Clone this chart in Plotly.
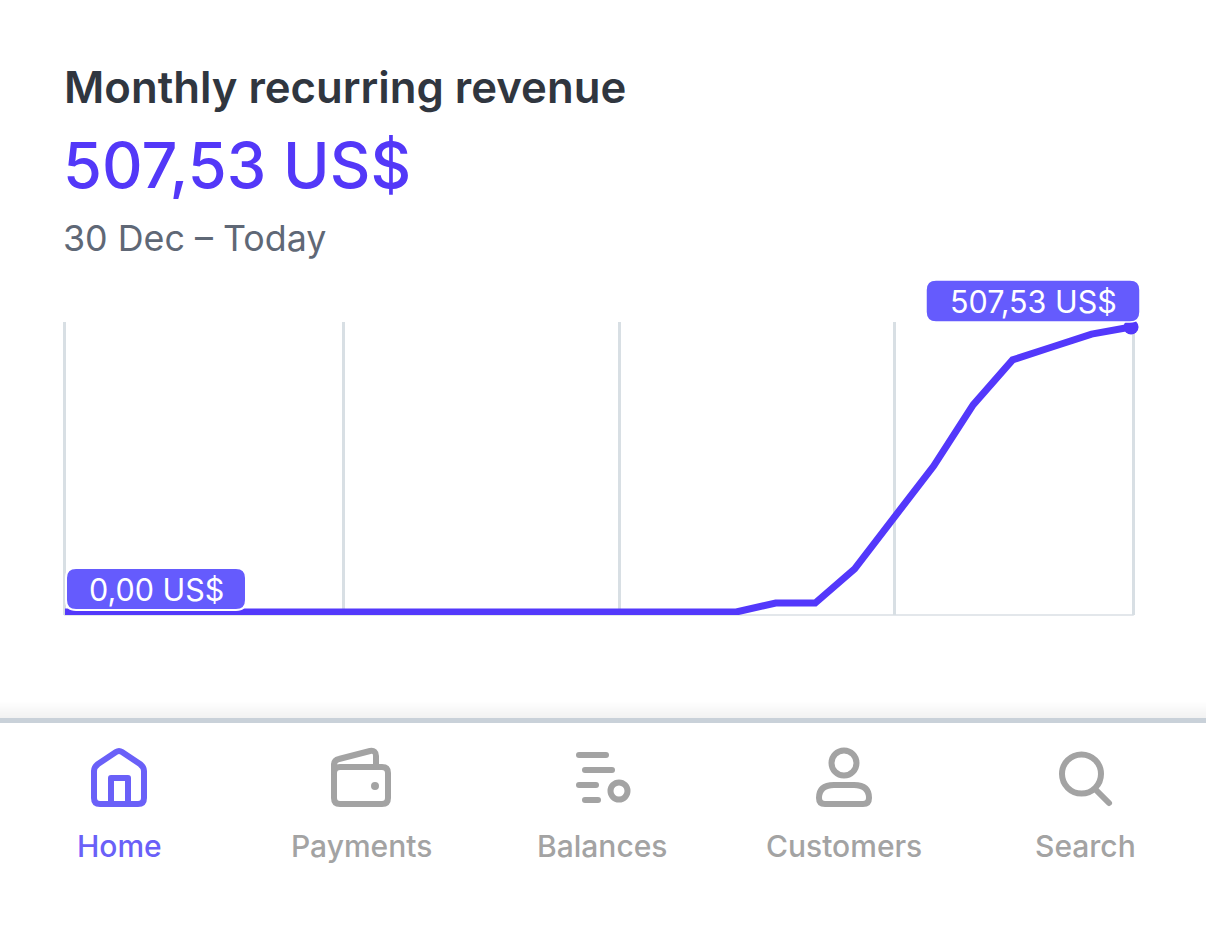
import plotly.graph_objects as go

# data, one point per day starting 30 Dec

days = list(range(28))
revenue = [0, 0, 0, 0, 0, 0, 0, 0, 0, 0, 0, 0, 0, 0, 0, 0, 0, 0,
           16, 16, 77, 169, 260, 369, 449, 472, 495, 507.53]
grid_days = [0, 7.06, 14.05, 21, 27.05]
tabs = ["Home", "Payments", "Balances", "Customers", "Search"]
tab_centers = [119, 361, 602, 844, 1085]

title = "Monthly recurring revenue"
total = "507,53 US$"
period = "30 Dec – Today"

PURPLE = "#5338fb"
LABEL = "#655bfd"
TAB_ON = "#6a60f8"
TAB_OFF = "#a3a3a3"
FONT = "Inter"


def money(v):
    return f"{v:.2f} US$".replace(".", ",")


def rounded_box(x0, y0, x1, y1, r):
    return (f"M {x0+r} {y0} L {x1-r} {y0} Q {x1} {y0} {x1} {y0+r} L {x1} {y1-r} "
            f"Q {x1} {y1} {x1-r} {y1} L {x0+r} {y1} Q {x0} {y1} {x0} {y1-r} "
            f"L {x0} {y0+r} Q {x0} {y0} {x0+r} {y0} Z")


fig = go.Figure()

# the line itself
fig.add_trace(go.Scatter(x=days, y=revenue, mode="lines",
                         line=dict(color=PURPLE, width=7),
                         cliponaxis=False, hoverinfo="skip", showlegend=False))
fig.add_trace(go.Scatter(x=days[-1:], y=revenue[-1:], mode="markers",
                         marker=dict(color=PURPLE, size=15),
                         cliponaxis=False, hoverinfo="skip", showlegend=False))

shapes = []


def page_shape(**kw):
    shapes.append(dict(xref="x2", yref="y2", **kw))


def icon(path, color=TAB_OFF, width=6, fill=None):
    page_shape(type="path", path=path, line=dict(color=color, width=width),
               fillcolor=fill if fill else "rgba(0,0,0,0)")


def ring(cx, cy, r, color=TAB_OFF, width=6, fill=None):
    page_shape(type="circle", x0=cx-r, x1=cx+r, y0=cy-r, y1=cy+r,
               line=dict(color=color, width=width),
               fillcolor=fill if fill else "rgba(0,0,0,0)")


# value labels on the chart
page_shape(type="path", path=rounded_box(926, 280, 1140, 322, 10),
           fillcolor=LABEL, line=dict(color="white", width=1.5))
page_shape(type="path", path=rounded_box(66, 568, 246, 610, 10),
           fillcolor=LABEL, line=dict(color="white", width=2))

# fade above the tab bar
for i in range(18):
    g = 255 - int(i * 14 / 18)
    page_shape(type="rect", x0=0, x1=1206, y0=700+i, y1=701+i,
               fillcolor=f"rgb({g},{g},{g})", line=dict(width=0))
page_shape(type="rect", x0=0, x1=1206, y0=718, y1=723,
           fillcolor="#c9d1d9", line=dict(width=0))

# home
icon("M 94 798 L 94 771 Q 94 767 98 764 L 116 752 Q 119 750 122 752 L 140 764 "
     "Q 144 767 144 771 L 144 798 Q 144 804 138 804 L 100 804 Q 94 804 94 798 Z", TAB_ON)
icon("M 111 804 L 111 778 L 128 778 L 128 804", TAB_ON)

# payments
icon(rounded_box(334, 767, 388, 804, 6))
icon("M 334 772 L 334 765 Q 334 760 339 759 L 370 751 Q 376 750 376 756 L 376 767")
ring(375, 786, 2.5, fill=TAB_OFF, width=3)

# balances
icon("M 579 755 L 606 755")
icon("M 585 770 L 612 770")
icon("M 579 785 L 596 785")
icon("M 585 800 L 598 800")
ring(619, 791, 8.5)

# customers
ring(844, 763, 12.5)
icon("M 819 798 Q 819 785 834 785 L 854 785 Q 869 785 869 798 "
     "Q 869 804 863 804 L 825 804 Q 819 804 819 798 Z")

# search
ring(1081.5, 774, 19.5)
icon("M 1096 790 L 1109 803")

annotations = []


def label(text, x, y, size, color, weight=400, anchor="left"):
    annotations.append(dict(text=text, x=x, y=y, xref="x2", yref="y2",
                            xanchor=anchor, yanchor="middle", showarrow=False,
                            font=dict(family=FONT, size=size, color=color, weight=weight)))


label(title, 62, 87, 43.7, "#30363f", 600)
label(total, 61, 165, 63, "#5338f8", 500)
label(period, 61, 238, 35.8, "#5f6876")
label(money(revenue[-1]), 1033, 301, 30.5, "white", anchor="center")
label(money(revenue[0]), 156, 589, 30.5, "white", anchor="center")
for name, cx in zip(tabs, tab_centers):
    label(name, cx, 846, 30, TAB_ON if name == "Home" else TAB_OFF, 500, "center")

fig.update_layout(
    width=1206, height=927,
    margin=dict(l=0, r=0, t=0, b=0),
    paper_bgcolor="rgba(0,0,0,0)", plot_bgcolor="rgba(0,0,0,0)",
    showlegend=False,
    shapes=shapes,
    annotations=annotations,
    xaxis=dict(domain=[63/1206, 1135/1206], range=[-0.05, 27.1],
               tickvals=grid_days, showticklabels=False, ticks="",
               showgrid=True, gridcolor="#d8dfe4", gridwidth=2.5,
               zeroline=False, showline=False),
    yaxis=dict(domain=[(927-615)/927, (927-322)/927], range=[-5.3, 516.5],
               showticklabels=False, ticks="", showgrid=False,
               zeroline=False, showline=False),
    xaxis2=dict(domain=[0, 1], range=[0, 1206], visible=False, anchor="y2"),
    yaxis2=dict(domain=[0, 1], range=[927, 0], visible=False, anchor="x2"),
)

# base line along the bottom of the chart
fig.add_shape(type="line", xref="x", yref="paper", x0=0, x1=27.05,
              y0=(927-615)/927, y1=(927-615)/927,
              line=dict(color="#e3e7eb", width=2), layer="below")

fig.write_html("out.html", config=dict(displayModeBar=False),
               post_script="document.body.style.margin='0';"
                           "document.querySelectorAll('.shapelayer path').forEach(function(p){"
                           "p.style.strokeLinecap='round';p.style.strokeLinejoin='round';});")
